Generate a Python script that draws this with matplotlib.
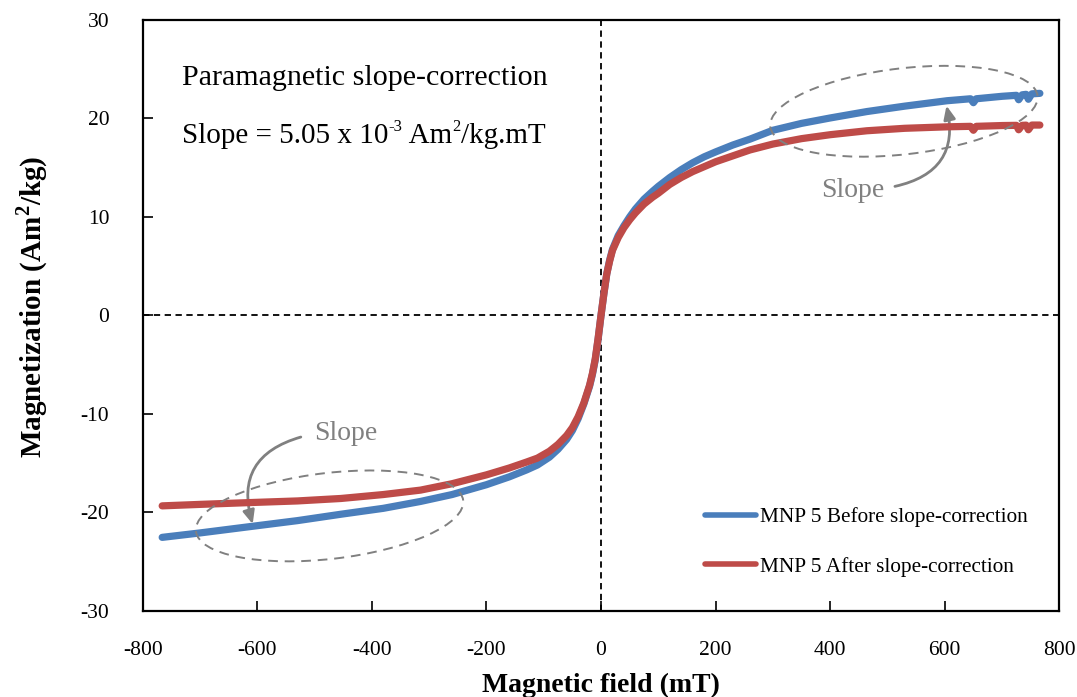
import matplotlib
matplotlib.use("Agg")
import matplotlib.pyplot as plt
from matplotlib.patches import Ellipse
from matplotlib.transforms import ScaledTranslation

plt.rcParams['font.family'] = ['Liberation Serif', 'DejaVu Serif']
plt.rcParams['mathtext.fontset'] = 'custom'
plt.rcParams['mathtext.rm'] = 'Liberation Serif'
plt.rcParams['mathtext.bf'] = 'Liberation Serif:bold'
plt.rcParams['axes.unicode_minus'] = False

# Data (field in mT, magnetization in Am^2/kg)
field_before = [-766, -700, -605, -530, -454, -380, -315, -260, -200, -160, -130, -111, -90, -75, -60, -50,
                -40, -30, -20, -15, -10, -5, 0, 5, 10, 15, 20, 30, 40, 50, 60, 75, 90, 100, 120, 140, 160,
                180, 200, 230, 260, 300, 350, 400, 464, 530, 604, 645, 650, 655, 700, 725, 729, 735, 742,
                746, 752, 766]
mag_before = [-22.55, -22.1, -21.4, -20.85, -20.2, -19.6, -18.9, -18.2, -17.2, -16.4, -15.7, -15.2, -14.4,
              -13.6, -12.6, -11.7, -10.5, -9.0, -7.2, -6.0, -4.5, -2.4, 0.0, 2.2, 4.2, 5.6, 6.7, 8.1, 9.1,
              10.0, 10.8, 11.8, 12.6, 13.1, 14.0, 14.8, 15.5, 16.1, 16.6, 17.3, 17.9, 18.8, 19.5, 20.05,
              20.7, 21.25, 21.8, 22.0, 21.6, 22.0, 22.25, 22.35, 21.9, 22.4, 22.45, 21.95, 22.5, 22.55]

field_after = [-766, -700, -605, -530, -454, -380, -315, -260, -200, -160, -130, -111, -90, -75, -60, -50,
               -40, -30, -20, -15, -10, -5, 0, 5, 10, 15, 20, 30, 40, 50, 60, 75, 90, 100, 120, 140, 160,
               180, 200, 230, 260, 300, 350, 400, 464, 530, 604, 645, 650, 655, 700, 725, 729, 735, 742,
               746, 752, 766]
mag_after = [-19.35, -19.2, -19.0, -18.85, -18.6, -18.2, -17.75, -17.1, -16.2, -15.5, -14.9, -14.5, -13.8,
             -13.1, -12.2, -11.4, -10.3, -8.9, -7.1, -5.9, -4.4, -2.3, 0.0, 2.2, 4.2, 5.5, 6.6, 7.9, 8.9,
             9.7, 10.4, 11.3, 12.0, 12.4, 13.3, 14.0, 14.6, 15.1, 15.6, 16.2, 16.8, 17.4, 17.95, 18.35,
             18.75, 19.0, 19.15, 19.2, 18.8, 19.2, 19.28, 19.3, 18.85, 19.3, 19.32, 18.85, 19.33, 19.33]

x_ticks = [-800, -600, -400, -200, 0, 200, 400, 600, 800]
y_ticks = [-30, -20, -10, 0, 10, 20, 30]

label_before = 'MNP 5 Before slope-correction'
label_after = 'MNP 5 After slope-correction'

blue = '#4A7EBB'
red = '#BE4B48'
gray = '#808080'

fig = plt.figure(figsize=(10.77, 6.97), dpi=100)
ax = fig.add_axes([0.1325, 0.1238, 0.8511, 0.8475])

ax.axhline(0, color='black', lw=1.3, ls=(0, (3.5, 2.5)), zorder=1)
ax.axvline(0, color='black', lw=1.3, ls=(0, (3.5, 2.5)), zorder=1)

ax.plot(field_before, mag_before, color=blue, lw=5.2, solid_capstyle='round', solid_joinstyle='round',
        label=label_before, zorder=3)
ax.plot(field_after, mag_after, color=red, lw=5.2, solid_capstyle='round', solid_joinstyle='round',
        label=label_after, zorder=4)

ax.set_xlim(-800, 800)
ax.set_ylim(-30, 30)
ax.set_xticks(x_ticks)
ax.set_yticks(y_ticks)
ax.tick_params(direction='in', length=7, width=1.2, labelsize=15.5, colors='black')
ax.tick_params(axis='x', pad=22)
ax.tick_params(axis='y', pad=24)
for s in ax.spines.values():
    s.set_linewidth(1.6)

ax.set_xlabel('Magnetic field (mT)', fontsize=20, fontweight='bold', labelpad=9)
ax.set_ylabel(r'Magnetization (Am$^{\mathbf{2}}$/kg)', fontsize=21, fontweight='bold')
ax.yaxis.set_label_coords(-0.101, 0.514)

# Annotation text: "Slope = 5.05 x 10^-3 Am^2/kg.mT" assembled piecewise for tight superscripts
fs_note = 21
ax.text(-732, 23.35, 'Paramagnetic slope-correction', fontsize=21.6, va='baseline', ha='left')
t1 = ax.text(-732, 17.5, 'Slope = 5.05 x 10', fontsize=fs_note, va='baseline', ha='left')
t2 = ax.annotate('-3', xy=(1, 1), xycoords=t1, xytext=(0.5, 3), textcoords='offset points',
                 fontsize=12, va='top', ha='left')
t3 = ax.annotate(' Am', xy=(1, 0), xycoords=(t2, t1), fontsize=fs_note, va='bottom', ha='left')
t4 = ax.annotate('2', xy=(1, 1), xycoords=(t3, t1), xytext=(0.5, 3), textcoords='offset points',
                 fontsize=12, va='top', ha='left')
t5 = ax.annotate('/kg.mT', xy=(1, 0), xycoords=(t4, t1), fontsize=fs_note, va='bottom', ha='left')

# Dashed ellipses (pixel-size, centred at data positions)
for cx, cy in [(528.7, 20.73), (-473.8, -20.37)]:
    e = Ellipse((0, 0), 269, 86, angle=6.6, fill=False, ec=gray, lw=1.4, ls=(0, (5, 3.5)),
                transform=ScaledTranslation(cx, cy, ax.transData), zorder=5)
    ax.add_artist(e)

ax.text(440, 12.7, 'Slope', fontsize=20, color=gray, ha='center', va='center')
ax.text(-445, -12.05, 'Slope', fontsize=20, color=gray, ha='center', va='center')
arrow_kw = dict(arrowstyle='-|>,head_length=0.8,head_width=0.35', color=gray, lw=2,
                connectionstyle='arc3,rad=0.5', shrinkA=0, shrinkB=0)
ax.annotate('', xy=(603, 21.3), xytext=(513, 13.1), arrowprops=arrow_kw)
ax.annotate('', xy=(-608, -21.2), xytext=(-524, -12.36), arrowprops=arrow_kw)

leg = ax.legend(loc='center left', bbox_to_anchor=(686 / 1077, 1 - 542 / 697), bbox_transform=fig.transFigure,
                frameon=False, fontsize=15.3, handlelength=2.4, handletextpad=0.2, labelspacing=1.4)
for line in leg.get_lines():
    line.set_linewidth(4)

fig.savefig('out.png', dpi=100)
